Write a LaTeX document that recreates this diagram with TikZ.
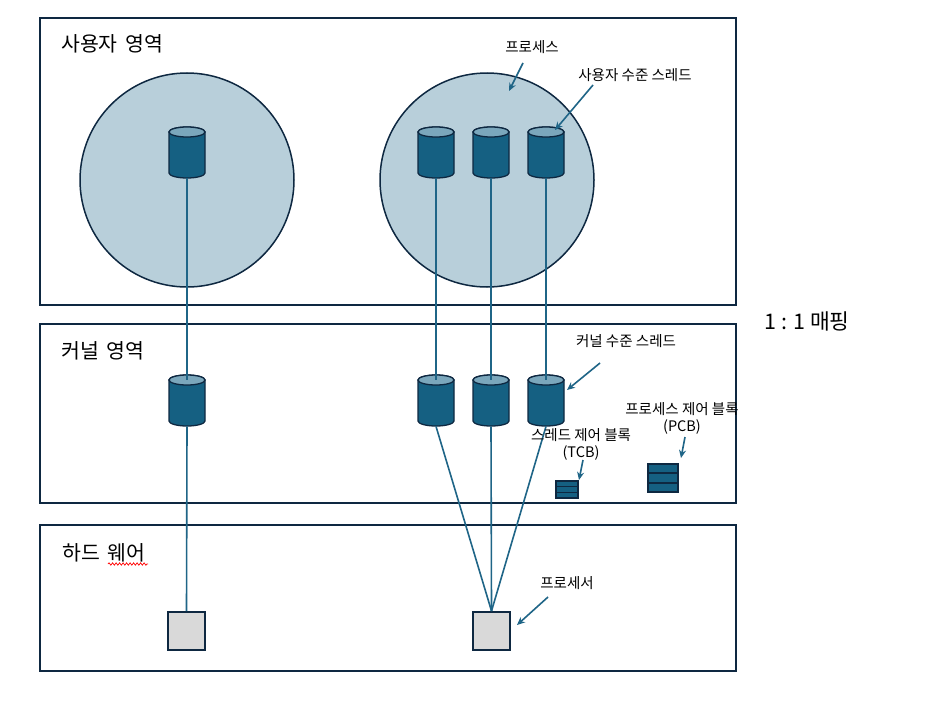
\documentclass[tikz,border=0pt]{standalone}
\usepackage{fontspec}
\setmainfont{Noto Sans CJK KR}
\usetikzlibrary{arrows.meta,decorations.pathmorphing,calc}
\definecolor{boxline}{HTML}{0E2841}
\definecolor{procfill}{HTML}{B8CFDA}
\definecolor{thr}{HTML}{156082}
\definecolor{thrtop}{HTML}{7BA7BC}
\definecolor{conn}{HTML}{1F6587}
\definecolor{cpufill}{HTML}{D9D9D9}
\tikzset{
  region/.style={draw=boxline, line width=2pt, fill=white, inner sep=0, anchor=north west},
  proc/.style={draw=boxline, line width=1.5pt, fill=procfill, circle, inner sep=0, minimum size=214pt},
  bigtext/.style={font=\fontsize{20.5}{24}\selectfont, inner sep=0, anchor=west},
  smalltext/.style={font=\fontsize{14.5}{17}\selectfont, inner sep=0, align=center},
  thrbody/.style={fill=thr, draw=boxline, line width=1.3pt},
  thrcap/.style={fill=thrtop, draw=boxline, line width=1.3pt},
  link/.style={draw=conn, line width=1.6pt},
  pointer/.style={draw=conn, line width=1.6pt, -{Stealth[length=8pt,width=7pt]}},
  cpu/.style={draw=boxline, line width=2pt, fill=cpufill, inner sep=0, minimum width=37pt, minimum height=38pt},
  ctrlblock/.style={draw=boxline, line width=1.5pt, fill=thr, inner sep=0},
}
\newcommand\thread[3]{%
  \pgfmathsetmacro\ta{#3+5}\pgfmathsetmacro\tb{#3+46}%
  \filldraw[thrbody] (#2-18,\ta) -- (#2-18,\tb) arc[start angle=180,end angle=0,x radius=18,y radius=5] -- (#2+18,\ta) arc[start angle=0,end angle=-180,x radius=18,y radius=5] -- cycle;
  \filldraw[thrcap] (#2,\ta) ellipse[x radius=18,y radius=5];
  \coordinate (#1top) at (#2,\ta);
  \node[inner sep=0,minimum width=36pt,minimum height=51pt,anchor=north] (#1) at (#2,#3) {};
}
\newcommand\ctrlrows[1]{%
  \draw[boxline, line width=1.5pt] ($(#1.north west)!0.3333!(#1.south west)$) -- ($(#1.north east)!0.3333!(#1.south east)$);
  \draw[boxline, line width=1.5pt] ($(#1.north west)!0.6667!(#1.south west)$) -- ($(#1.north east)!0.6667!(#1.south east)$);
}
\begin{document}
\begin{tikzpicture}[x=1pt,y=-1pt]
\useasboundingbox[fill=white] (0,0) rectangle (928,701);

% regions
\node[region, minimum width=696pt, minimum height=287pt] (user) at (39,17) {};
\node[region, minimum width=696pt, minimum height=179pt] (kernel) at (39,323) {};
\node[region, minimum width=696pt, minimum height=146pt] (hw) at (39,524) {};

\node[bigtext] (userlbl) at (61,44) {사용자\hspace{3pt} 영역};
\node[bigtext] (kernlbl) at (61,351) {커널\hspace{3pt} 영역};
\node[bigtext] (hwlbl) at (62,553) {하드\hspace{3pt} 웨어};
\draw[red, line width=0.7pt, decorate, decoration={snake, amplitude=1.2pt, segment length=3.5pt}] (108,564) -- (148,564);

% processes
\node[proc] (p1) at (187,180) {};
\node[proc] (p2) at (487,180) {};

% user threads
\thread{u1}{187}{127}
\thread{u2}{436}{127}
\thread{u3}{491}{127}
\thread{u4}{546}{127}

% kernel threads
\thread{k1}{187}{375}
\thread{k2}{436}{375}
\thread{k3}{491}{375}
\thread{k4}{546}{375}

% processors
\node[cpu] (cpu1) at (186.5,631) {};
\node[cpu] (cpu2) at (491.5,631) {};

% control blocks
\node[ctrlblock, minimum width=22pt, minimum height=17pt] (tcb) at (567,489.5) {};
\ctrlrows{tcb}
\node[ctrlblock, minimum width=30pt, minimum height=28pt] (pcb) at (663,478) {};
\ctrlrows{pcb}

% connectors
\draw[link] (u1.south) -- (k1top);
\draw[link] (u2.south) -- (k2top);
\draw[link] (u3.south) -- (k3top);
\draw[link] (u4.south) -- (k4top);
\draw[link] (k1.south) -- (cpu1.north);
\draw[link] (k2.south) -- (cpu2.north);
\draw[link] (k3.south) -- (cpu2.north);
\draw[link] (k4.south) -- (cpu2.north);

% labels
\node[smalltext] (proclbl) at (532,47) {프로세스};
\node[smalltext] (ultlbl) at (635,75) {사용자 수준 스레드};
\node[smalltext] (kltlbl) at (626,341) {커널 수준 스레드};
\node[smalltext] (tcblbl) at (581,444) {스레드 제어 블록\\(TCB)};
\node[smalltext] (pcblbl) at (682,418) {프로세스 제어 블록\\(PCB)};
\node[smalltext] (cpulbl) at (567,583) {프로세서};
\node[font=\fontsize{21.5}{25}\selectfont, inner sep=0] (maplbl) at (807,321) {1 : 1 매핑};

\coordinate (a1) at (523,63);  \coordinate (a1e) at (509,91);
\coordinate (a2) at (593,85);  \coordinate (a2e) at (555,130);
\coordinate (a3) at (600,363); \coordinate (a3e) at (567,390);
\coordinate (a4) at (583,460); \coordinate (a4e) at (579,480);
\coordinate (a5) at (685,437); \coordinate (a5e) at (681,458);
\coordinate (a6) at (548,597); \coordinate (a6e) at (517,625);
\draw[pointer] (a1) -- (a1e);
\draw[pointer] (a2) -- (a2e);
\draw[pointer] (a3) -- (a3e);
\draw[pointer] (a4) -- (a4e);
\draw[pointer] (a5) -- (a5e);
\draw[pointer] (a6) -- (a6e);
\end{tikzpicture}
\end{document}
